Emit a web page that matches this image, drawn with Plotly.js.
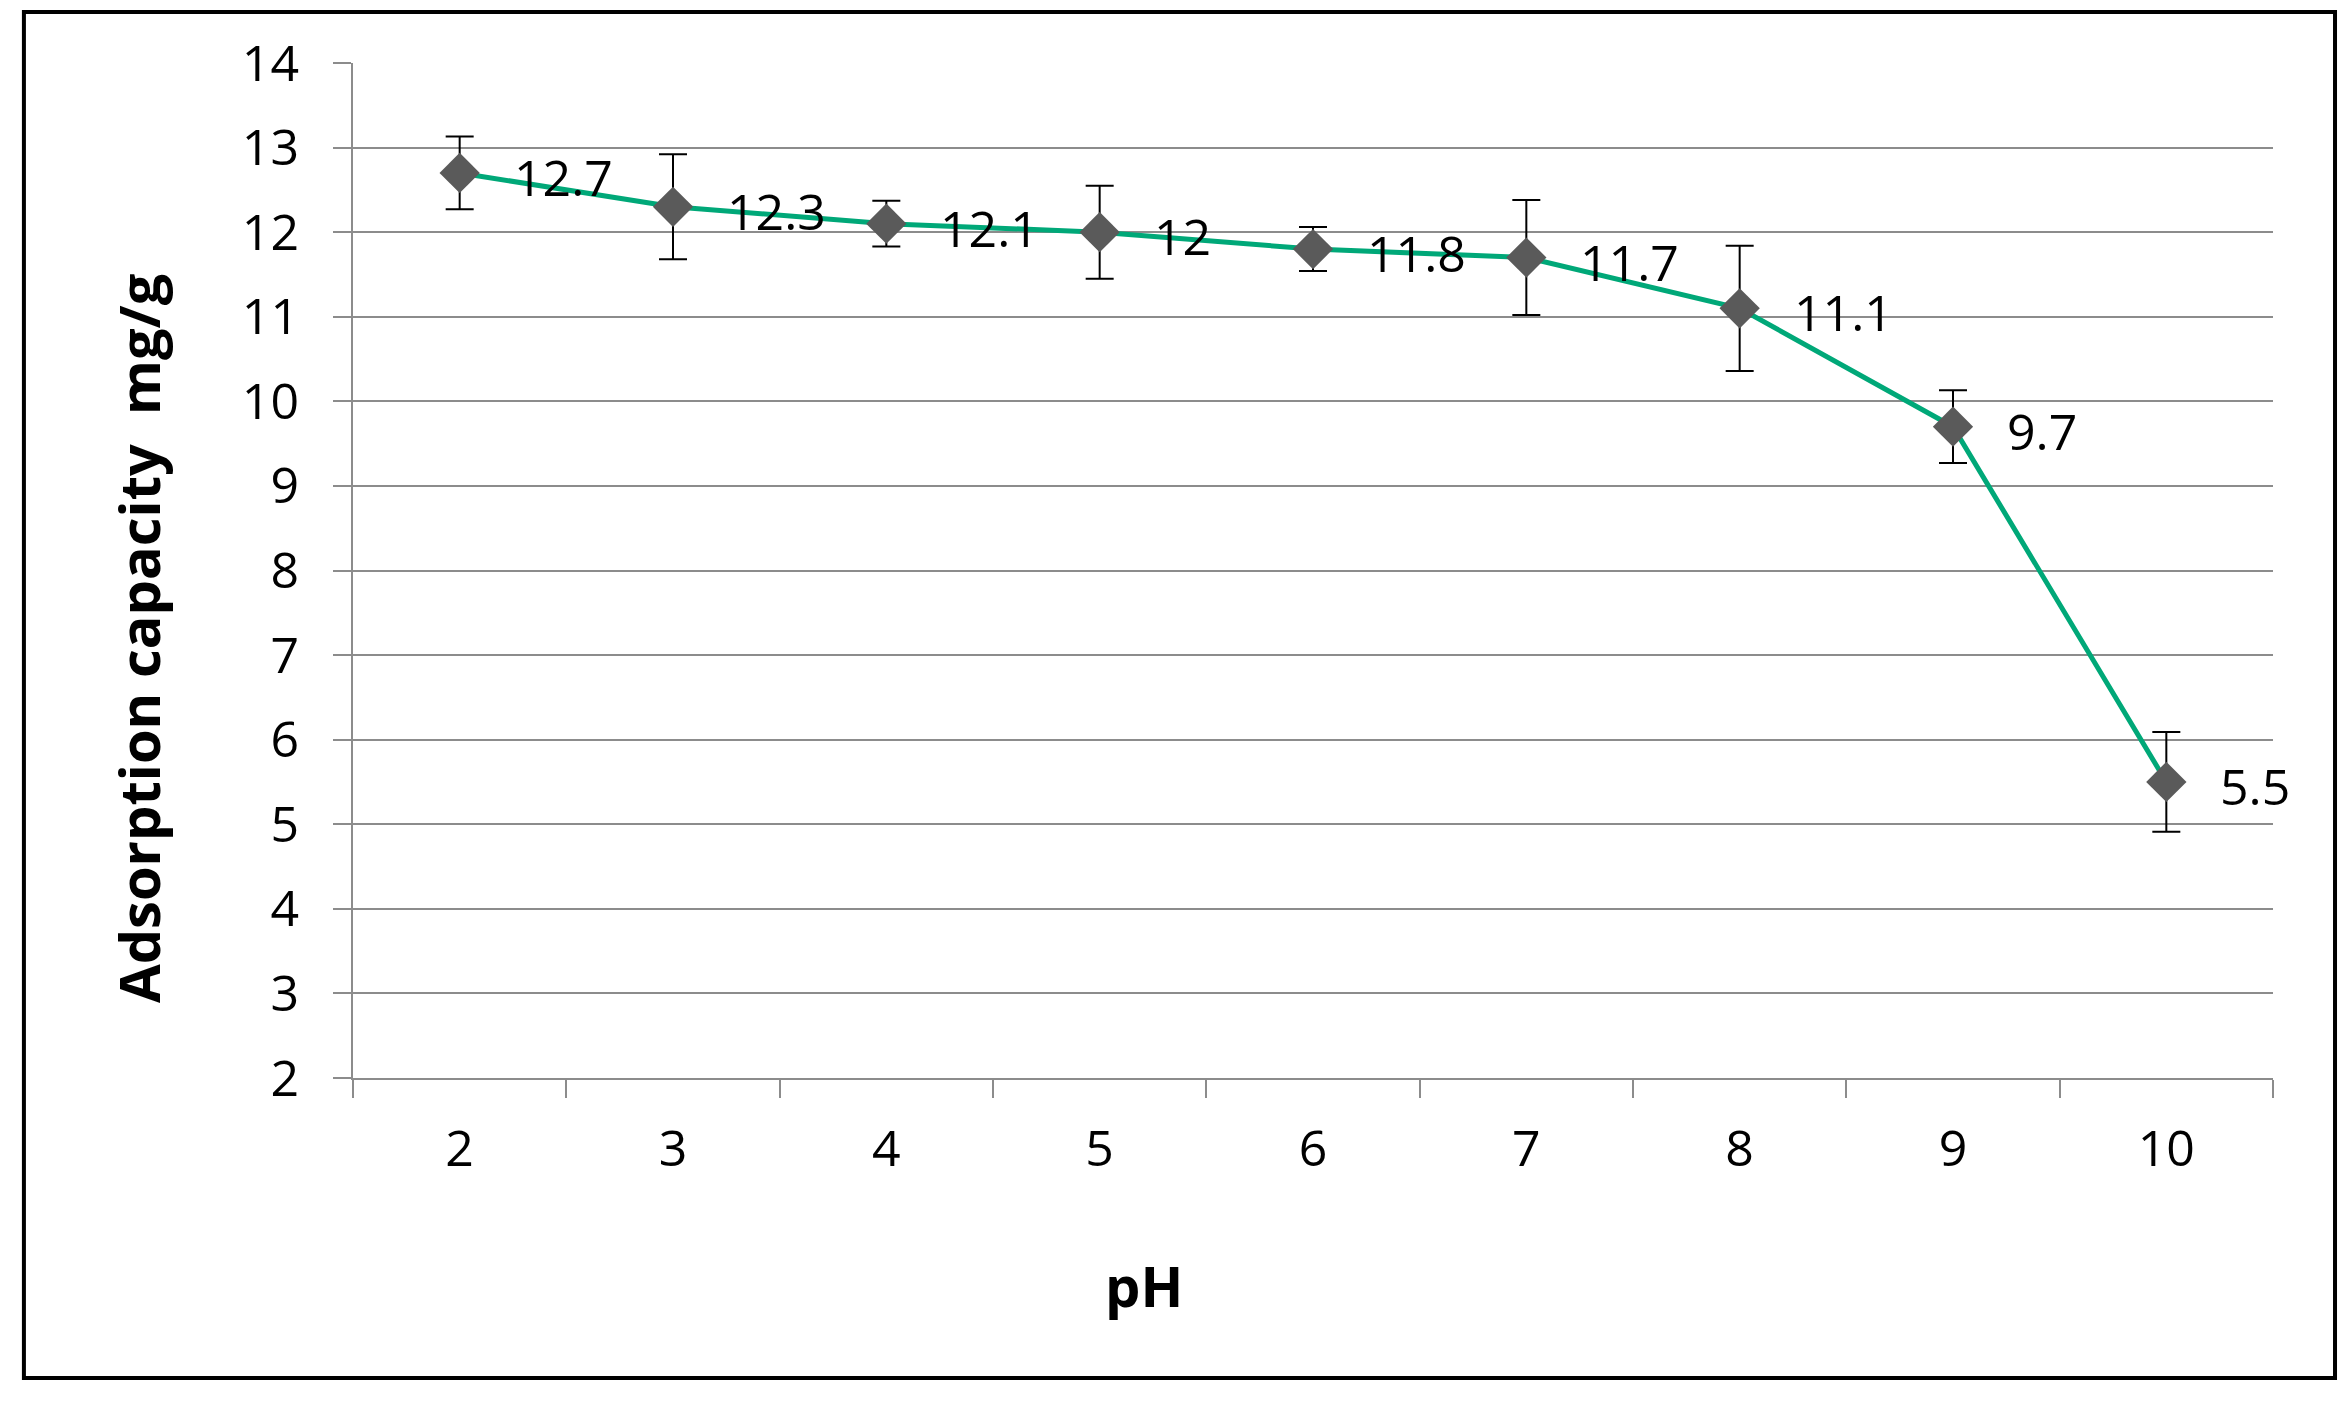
<!DOCTYPE html>
<html>
<head>
<meta charset="utf-8">
<script src="https://cdn.plot.ly/plotly-3.0.1.min.js"></script>
<style>html,body{margin:0;padding:0;background:#fff;}#chart{width:2350px;height:1401px;}</style>
</head>
<body>
<div id="chart"></div>
<script>
// Data
const phLabels = ['2', '3', '4', '5', '6', '7', '8', '9', '10'];
const capacity = [12.7, 12.3, 12.1, 12, 11.8, 11.7, 11.1, 9.7, 5.5];
const errors = [0.43, 0.62, 0.27, 0.55, 0.26, 0.68, 0.74, 0.43, 0.59];
const valueLabels = ['12.7', '12.3', '12.1', '12', '11.8', '11.7', '11.1', '9.7', '5.5'];
const yTickVals = [2, 3, 4, 5, 6, 7, 8, 9, 10, 11, 12, 13, 14];

const FONT = '"Open Sans", "Noto Sans", "Liberation Sans", sans-serif';
const GRID = '#8c8c8c';

const trace = {
  type: 'scatter',
  mode: 'lines+markers',
  x: phLabels,
  y: capacity,
  line: {color: '#00a878', width: 5},
  marker: {symbol: 'diamond', size: 31, color: '#5a5a5a', line: {width: 0}},
  error_y: {type: 'data', array: errors, visible: true, color: '#000000', thickness: 2, width: 14},
  hoverinfo: 'x+y',
  showlegend: false
};

// category axis: annotation x is the category index
const labelAnnotations = phLabels.map((p, i) => ({
  x: i, y: capacity[i], xref: 'x', yref: 'y',
  text: valueLabels[i], showarrow: false,
  xanchor: 'left', yanchor: 'middle', xshift: 52, yshift: -4,
  font: {family: FONT, size: 50, color: '#000000'}
}));

const layout = {
  width: 2350, height: 1401,
  paper_bgcolor: '#ffffff', plot_bgcolor: '#ffffff',
  margin: {l: 353, r: 77, t: 63, b: 323},
  font: {family: FONT, size: 50, color: '#000000'},
  xaxis: {
    type: 'category',
    range: [-0.5, phLabels.length - 0.5],
    autorange: false,
    tickson: 'boundaries',
    ticks: 'outside', ticklen: 18, tickwidth: 2, tickcolor: GRID,
    showgrid: false, showline: true, linecolor: GRID, linewidth: 2,
    tickfont: {family: FONT, size: 50, color: '#000000'},
    ticklabelstandoff: 26,
    zeroline: false
  },
  yaxis: {
    range: [2, 14],
    autorange: false,
    tickvals: yTickVals,
    ticks: 'outside', ticklen: 18, tickwidth: 2, tickcolor: GRID,
    showgrid: true, gridcolor: GRID, gridwidth: 2,
    showline: true, linecolor: GRID, linewidth: 2,
    zeroline: false,
    tickfont: {family: FONT, size: 50, color: '#000000'},
    ticklabelstandoff: 24
  },
  shapes: [{
    type: 'rect', xref: 'paper', yref: 'paper',
    x0: -0.1714, x1: 1.0323, y0: -0.2956, y1: 1.0502,
    line: {color: '#000000', width: 4}, fillcolor: 'rgba(0,0,0,0)', layer: 'below'
  }],
  annotations: labelAnnotations.concat([
    {
      xref: 'paper', yref: 'paper', x: -0.112, y: 0.4335,
      text: '<b>Adsorption capacity  mg/g</b>', textangle: -90, showarrow: false,
      xanchor: 'center', yanchor: 'middle',
      font: {family: FONT, size: 56, color: '#000000'}
    },
    {
      xref: 'paper', yref: 'paper', x: 0.412, y: -0.204,
      text: '<b>pH</b>', showarrow: false,
      xanchor: 'center', yanchor: 'middle',
      font: {family: FONT, size: 56, color: '#000000'}
    }
  ])
};

Plotly.newPlot('chart', [trace], layout, {displayModeBar: false, staticPlot: true});
</script>
</body>
</html>
